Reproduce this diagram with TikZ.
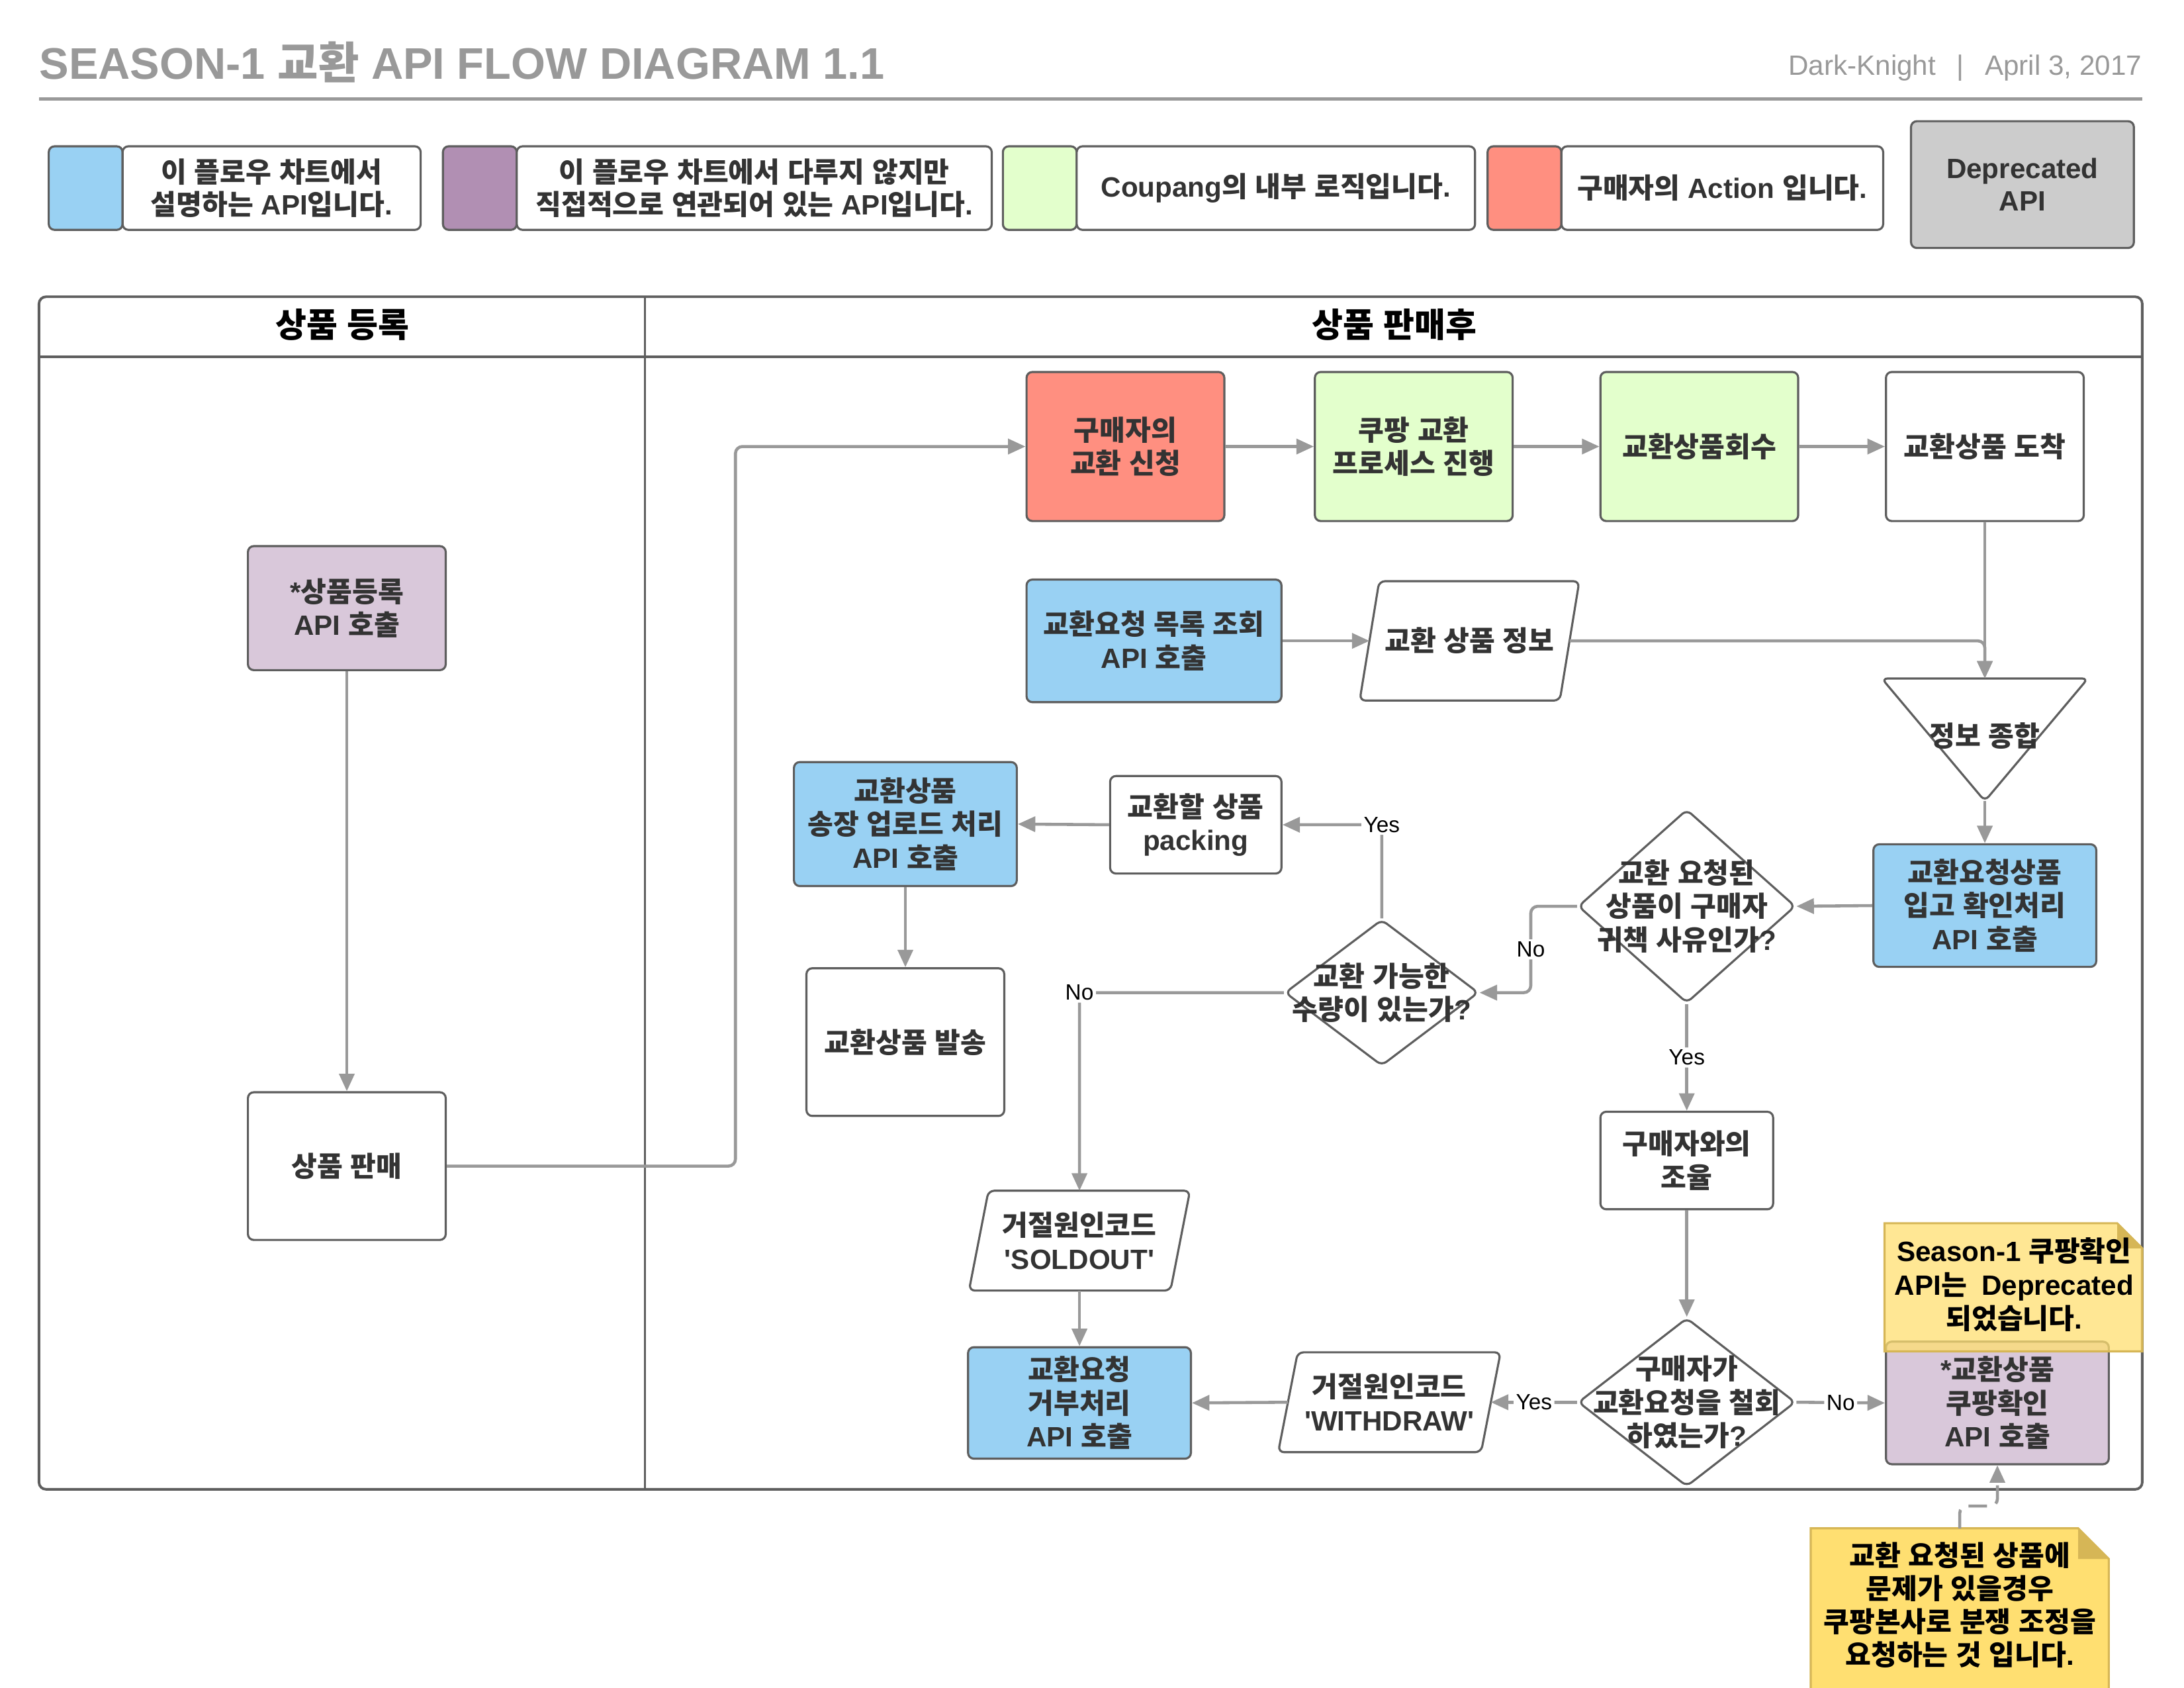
\documentclass[tikz,border=0pt]{standalone}
\usepackage{fontspec}
\setmainfont{Liberation Sans}[Ligatures=TeXOff]
\newfontfamily\krfont{Noto Sans CJK KR}[Ligatures=TeXOff]
\newfontfamily\latfont{Liberation Sans}[Ligatures=TeXOff]
\usetikzlibrary{arrows.meta,shapes.geometric}
\XeTeXinterchartokenstate=1
\newXeTeXintercharclass\krclass
\newcount\krc
\krc="AC00
\loop \XeTeXcharclass\krc=\krclass \ifnum\krc<"D7A3 \advance\krc by 1 \repeat
\XeTeXinterchartoks 0 \krclass = {\krfont}
\XeTeXinterchartoks 4095 \krclass = {\krfont}
\XeTeXinterchartoks \krclass 0 = {\latfont}
\XeTeXinterchartoks \krclass 4095 = {\latfont}
\newdimen\pxu \pxu=0.021046cm
\definecolor{cblue}{HTML}{99D1F3}
\definecolor{cpurp}{HTML}{B18FB3}
\definecolor{cpurpl}{HTML}{D9C8DA}
\definecolor{cgreen}{HTML}{E3FFCC}
\definecolor{cred}{HTML}{FF8F80}
\definecolor{cgray}{HTML}{CCCCCC}
\definecolor{cyel}{HTML}{FFDF71}
\definecolor{cyeld}{HTML}{D6B656}
\definecolor{cline}{HTML}{999999}
\definecolor{cbord}{HTML}{5E5E5E}
\definecolor{ctext}{HTML}{333333}
\newcommand\nfont{\fontsize{12}{14.4}\selectfont\bfseries}
\newcommand\lgfont{\fontsize{12}{13.8}\selectfont\bfseries}
\newcommand\hdfont{\fontsize{14.5}{17}\selectfont\bfseries}
\newcommand\lbfont{\fontsize{9.5}{11}\selectfont}
\newcommand\ttlfont{\fontsize{19}{22}\selectfont\bfseries}
\newcommand\subfont{\fontsize{12}{14}\selectfont}
\newcommand\parashape[2]{\draw[shp] ([xshift=#2*\pxu]#1.north west) -- ([xshift=#2*\pxu]#1.north east) -- ([xshift=-#2*\pxu]#1.south east) -- ([xshift=-#2*\pxu]#1.south west) -- cycle;}
\tikzset{
  shp/.style={draw=cbord, line width=0.9pt, rounded corners=2.5pt},
  box/.style={shp, fill=white, font=\nfont, text=ctext, align=center, inner sep=1pt},
  txt/.style={font=\nfont, text=ctext, align=center, inner sep=1pt},
  sz/.style 2 args={minimum width=#1*\pxu, minimum height=#2*\pxu},
  dia/.style={diamond, shp, fill=white, inner sep=0pt},
  con/.style={draw=cline, line width=1.3pt, rounded corners=3pt, -{Triangle[length=7.5pt,width=6.5pt]}},
  lbl/.style={fill=white, font=\lbfont, text=black, inner sep=1pt},
  notest/.style={fill=cyel, draw=cyeld, line width=0.9pt},
}
\begin{document}
\begin{tikzpicture}[x=0.021046cm, y=-0.021046cm]
\fill[white] (0,0) rectangle (1568,1211.6);
\useasboundingbox (0,0) rectangle (1568,1211.6);

% title
\node[anchor=base west, inner sep=0pt, font=\ttlfont, text=cline] (title) at (28,57) {SEASON-1 교환 API FLOW DIAGRAM 1.1};
\node[anchor=base east, inner sep=0pt, font=\subfont, text=cline] (sub) at (1538,54) {Dark-Knight\hspace{9pt}|\hspace{9pt}April 3, 2017};
\draw[cline, line width=1.6pt] (28,71) -- (1538,71);

% legend
\node[box, fill=cblue, sz={53}{60}] (l1s) at (61.5,135) {};
\node[box, font=\lgfont, sz={214}{60}] (l1t) at (195,135) {이 플로우 차트에서\\설명하는 API입니다.};
\node[box, fill=cpurp, sz={53}{60}] (l2s) at (344.5,135) {};
\node[box, font=\lgfont, sz={341}{60}] (l2t) at (541.5,135) {이 플로우 차트에서 다루지 않지만\\직접적으로 연관되어 있는 API입니다.};
\node[box, fill=cgreen, sz={53}{60}] (l3s) at (746.5,135) {};
\node[box, font=\lgfont, sz={286}{60}] (l3t) at (916,135) {Coupang의 내부 로직입니다.};
\node[box, fill=cred, sz={53}{60}] (l4s) at (1094.5,135) {};
\node[box, font=\lgfont, sz={231}{60}] (l4t) at (1236.5,135) {구매자의 Action 입니다.};
\node[box, font=\lgfont, fill=cgray, sz={160}{91}] (dep) at (1452,132.5) {Deprecated\\API};

% pool
\draw[cbord, line width=1.1pt, rounded corners=3pt] (28,213) rectangle (1538,1069);
\draw[cbord, line width=1.1pt] (28,256) -- (1538,256);
\draw[cbord, line width=1.1pt] (463,213) -- (463,1069);
\node[font=\hdfont, text=black] (h1) at (246,233) {상품 등록};
\node[font=\hdfont, text=black] (h2) at (1001,233) {상품 판매후};

% nodes
\node[box, fill=cpurpl, sz={142}{89}] (reg) at (249,436.5) {*상품등록\\API 호출};
\node[box, sz={142}{106}] (sale) at (249,837) {상품 판매};
\node[box, fill=cred, sz={142}{107}] (req) at (808,320.5) {구매자의\\교환 신청};
\node[box, fill=cgreen, sz={142}{107}] (proc) at (1015,320.5) {쿠팡 교환\\프로세스 진행};
\node[box, fill=cgreen, sz={142}{107}] (coll) at (1220,320.5) {교환상품회수};
\node[box, sz={142}{107}] (arr) at (1425,320.5) {교환상품 도착};
\node[box, fill=cblue, sz={183}{88}] (list) at (828.5,460) {교환요청 목록 조회\\API 호출};
\node[txt, sz={143}{85}] (info) at (1055,460) {교환 상품 정보};
\parashape{info}{7}
\draw[shp] (1351,487) -- (1499,487) -- (1425,575) -- cycle;
\coordinate (tritop) at (1425,487);
\coordinate (tribot) at (1425,575);
\node[txt] (tri) at (1425,528) {정보 종합};
\node[box, fill=cblue, sz={160}{88}] (inb) at (1425,650) {교환요청상품\\입고 확인처리\\API 호출};
\node[dia, minimum width=156*\pxu, minimum height=139*\pxu] (d1) at (1211,650.5) {};
\node[txt] (d1t) at (d1) {교환 요청된\\상품이 구매자\\귀책 사유인가?};
\node[box, sz={123}{70}] (pack) at (858.5,592) {교환할 상품\\packing};
\node[box, fill=cblue, sz={160}{89}] (ship) at (650,591.5) {교환상품\\송장 업로드 처리\\API 호출};
\node[dia, minimum width=139*\pxu, minimum height=105*\pxu] (d2) at (992,712.5) {};
\node[txt] (d2t) at (d2) {교환 가능한\\수량이 있는가?};
\node[box, sz={142}{106}] (send) at (650,748) {교환상품 발송};
\node[txt, sz={144}{71}] (sold) at (775,890.5) {거절원인코드\\'SOLDOUT'};
\parashape{sold}{7}
\node[box, fill=cblue, sz={160}{80}] (rej) at (775,1007) {교환요청\\거부처리\\API 호출};
\node[box, sz={124}{70}] (coord) at (1211,833) {구매자와의\\조율};
\node[dia, minimum width=156*\pxu, minimum height=121*\pxu] (d3) at (1211,1006.5) {};
\node[txt] (d3t) at (d3) {구매자가\\교환요청을 철회\\하였는가?};
\node[txt, sz={145}{71}] (wd) at (997.5,1006.5) {거절원인코드\\'WITHDRAW'};
\parashape{wd}{7}
\node[box, fill=cpurpl, sz={160}{88}] (chk) at (1434,1007) {*교환상품\\쿠팡확인\\API 호출};

% notes
\draw[notest, fill opacity=0.75] (1353,878) -- (1520,878) -- (1538,896) -- (1538,970) -- (1353,970) -- cycle;
\fill[cyeld] (1520,878) -- (1520,896) -- (1538,896) -- cycle;
\node[font=\nfont, text=black, align=center] (n1) at (1446,922) {Season-1 쿠팡확인\\API는\hspace{3pt} Deprecated\\되었습니다.};
\draw[notest] (1300,1097) -- (1492,1097) -- (1514,1119) -- (1514,1216) -- (1300,1216) -- cycle;
\fill[cyeld] (1492,1097) -- (1492,1119) -- (1514,1119) -- cycle;
\coordinate (n2top) at (1407,1097);
\node[font=\fontsize{12}{14.2}\selectfont\bfseries, text=black, align=center] (n2) at (1407,1152) {교환 요청된 상품에\\문제가 있을경우\\쿠팡본사로 분쟁 조정을\\요청하는 것 입니다.};

% connectors
\draw[con] (reg) -- (sale);
\draw[con] (sale.east) -- (528,837) |- (req.west);
\draw[con] (req) -- (proc);
\draw[con] (proc) -- (coll);
\draw[con] (coll) -- (arr);
\draw[con] (arr.south) -- (tritop);
\draw[con] (list) -- (info);
\draw[con] (info.east) -| (tritop);
\draw[con] (tribot) -- (inb.north);
\draw[con] (inb.west) -- (d1.east);
\draw[con] (d1.west) -- (1099,650.5) |- node[lbl, pos=0.25] {No} (d2.east);
\draw[con] (d1.south) -- node[lbl] {Yes} (coord.north);
\draw[con] (d2.north) |- node[lbl, pos=0.5] {Yes} (pack.east);
\draw[con] (pack.west) -- (ship.east);
\draw[con] (ship.south) -- (send.north);
\draw[con] (d2.west) -| node[lbl, pos=0.5] {No} (sold.north);
\draw[con] (sold.south) -- (rej.north);
\draw[con] (coord.south) -- (d3.north);
\draw[con] (d3.west) -- node[lbl] {Yes} (wd.east);
\draw[con] (wd.west) -- (rej.east);
\draw[con] (d3.east) -- node[lbl] {No} (chk.west);
\draw[con, dash pattern=on 8pt off 4pt] (n2top) -- (1407,1081) -| (chk.south);
\end{tikzpicture}
\end{document}
